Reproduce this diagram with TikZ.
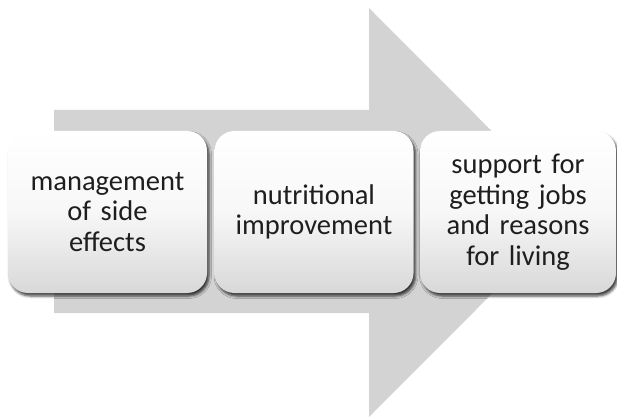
\documentclass[tikz,border=0pt]{standalone}
\usepackage{fontspec}
\setmainfont{Carlito}
\usetikzlibrary{shadows.blur}
\definecolor{arrowgray}{HTML}{D3D3D3}
\definecolor{boxbottom}{HTML}{D8D8D8}
\definecolor{txt}{HTML}{1E1E1E}
\tikzset{
  stagebox/.style={
    rounded corners=20pt, minimum width=199pt, minimum height=162pt,
    inner sep=0pt, text width=196pt, align=center,
    top color=white, bottom color=boxbottom, middle color=white!97!black,
    draw=none, text=txt,
    font=\fontsize{28.5}{30.5}\selectfont,
    blur shadow={shadow xshift=2pt, shadow yshift=-3pt, shadow blur radius=2.5pt, shadow opacity=75}
  }
}
\begin{document}
\begin{tikzpicture}[x=1pt,y=-1pt]
  \useasboundingbox (0,0) rectangle (617,419);
  % large background arrow
  \fill[arrowgray] (54,110) -- (369,110) -- (369,8) -- (573,212.5)
    -- (369,417) -- (369,313) -- (54,313) -- cycle;
  % the three stages
  \node[stagebox] (s1) at (107.5,212) {management\\of side\\effects};
  \node[stagebox] (s2) at (314,212) {nutritional\\improvement};
  \node[stagebox, minimum width=194pt] (s3) at (518,212) {support for\\getting jobs\\and reasons\\for living};
\end{tikzpicture}
\end{document}
